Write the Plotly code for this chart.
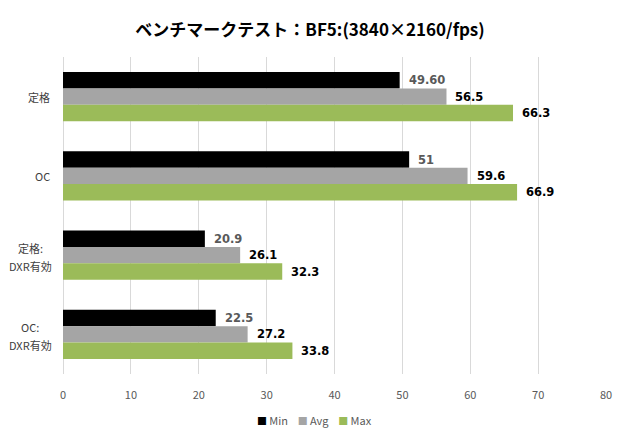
import plotly.graph_objects as go

categories = ["定格", "OC", "定格:<br>DXR有効", "OC:<br>DXR有効"]
series_names = ["Min", "Avg", "Max"]
min_vals = [49.6, 51, 20.9, 22.5]
avg_vals = [56.5, 59.6, 26.1, 27.2]
max_vals = [66.3, 66.9, 32.3, 33.8]
min_labels = ["49.60", "51", "20.9", "22.5"]
avg_labels = ["56.5", "59.6", "26.1", "27.2"]
max_labels = ["66.3", "66.9", "32.3", "33.8"]
x_ticks = [0, 10, 20, 30, 40, 50, 60, 70, 80]

colors = ["#000000", "#A5A5A5", "#9BBB59"]
label_colors = ["#595959", "#000000", "#000000"]
values = [min_vals, avg_vals, max_vals]
labels = [min_labels, avg_labels, max_labels]

fig = go.Figure()
for name, vals, col in zip(series_names, values, colors):
    fig.add_trace(go.Bar(
        y=categories, x=vals, name=name, orientation="h",
        marker=dict(color=col, line=dict(width=0)),
        showlegend=False,
    ))

MT, MB = 57, 61
plot_h = 435 - MT - MB
bar_px = plot_h / len(categories) * (1 - 0.38) / 3
annotations = []
for k, (labs, vals, lc) in enumerate(zip(labels, values, label_colors)):
    shift = (1 - k) * bar_px
    for cat, v, t in zip(categories, vals, labs):
        annotations.append(dict(
            x=v, y=cat, xref="x", yref="y", text=t, showarrow=False,
            xanchor="left", yanchor="middle", xshift=7, yshift=shift,
            font=dict(family="DejaVu Sans", size=11.5, color=lc, weight="bold"),
        ))

cat_font = dict(family="Noto Sans CJK JP", size=11, color="#404040")
for cat in categories:
    lines = cat.split("<br>")
    if len(lines) == 1:
        annotations.append(dict(
            x=0, y=cat, xref="paper", yref="y", text=cat, showarrow=False,
            xanchor="right", yanchor="middle", xshift=-11, font=cat_font,
        ))
    else:
        n = len(lines)
        for i, ln in enumerate(lines):
            annotations.append(dict(
                x=0, y=cat, xref="paper", yref="y", text=ln, showarrow=False,
                xanchor="center", yanchor="middle", xshift=-33,
                yshift=((n - 1) / 2 - i) * 18 - 1.5, font=cat_font,
            ))

# legend drawn as text with coloured squares
legend_parts = []
for name, col in zip(series_names, colors):
    legend_parts.append(
        f"<span style='color:{col};font-size:10px'>■</span>\u2009{name}"
    )
legend_text = "\u00a0\u00a0\u00a0\u00a0".join(legend_parts)
annotations.append(dict(
    x=0.5, y=-(420 - (435 - MB)) / plot_h, xref="paper", yref="paper",
    text=legend_text, showarrow=False, xanchor="center", yanchor="middle",
    xshift=-20,
    font=dict(family="Noto Sans CJK JP", size=11, color="#595959"),
))

fig.update_layout(
    width=620, height=435,
    margin=dict(l=63, r=14, t=MT, b=MB, autoexpand=False),
    paper_bgcolor="white", plot_bgcolor="white",
    barmode="group", bargap=0.38, bargroupgap=0,
    showlegend=False,
    title=dict(
        text="ベンチマークテスト：BF5:(3840×2160/fps)",
        x=0.5, xanchor="center", y=1 - 30 / 435, yanchor="middle",
        font=dict(family="Noto Sans CJK JP", size=17, color="#000000", weight="bold"),
    ),
    xaxis=dict(
        range=[0, 80], tickvals=x_ticks, ticktext=[str(t) for t in x_ticks],
        showgrid=True, gridcolor="#D9D9D9", gridwidth=1,
        zeroline=True, zerolinecolor="#D9D9D9", zerolinewidth=1,
        showline=False, ticks="",
        tickfont=dict(family="Noto Sans CJK JP", size=11, color="#595959"),
        ticklabelstandoff=13,
    ),
    yaxis=dict(
        autorange="reversed", showticklabels=False, showgrid=False,
        showline=False, ticks="", zeroline=False,
    ),
    annotations=annotations,
)

fig.write_html("out.html")
